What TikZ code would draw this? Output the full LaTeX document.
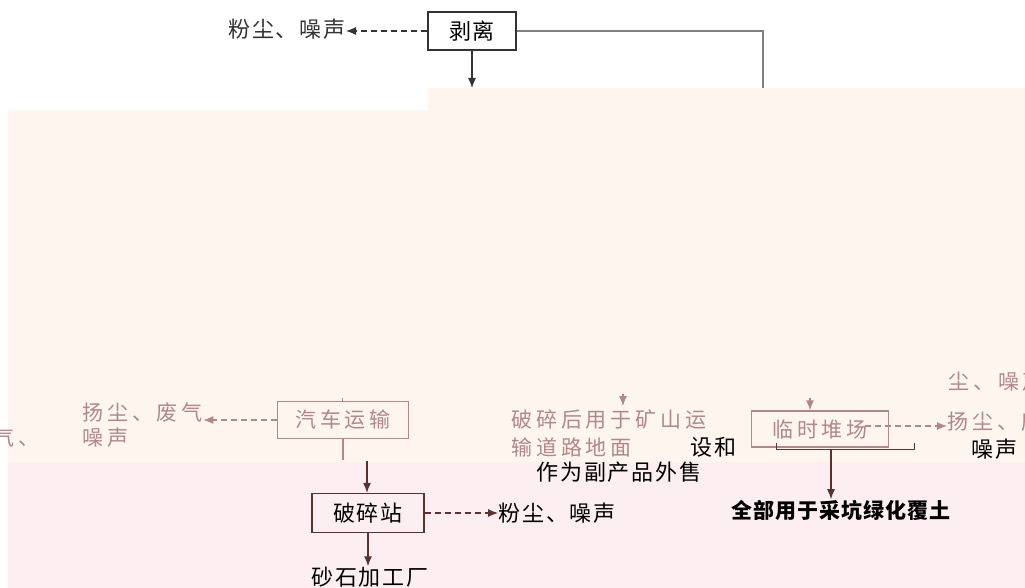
\documentclass[tikz,border=0pt]{standalone}
\usepackage{fontspec}
\setmainfont{Noto Sans CJK SC}
\usetikzlibrary{arrows,arrows.meta,positioning}
\definecolor{peach}{HTML}{FFF5EF}
\definecolor{blush}{HTML}{FDEFF1}
\definecolor{faded}{HTML}{B08888}
\definecolor{umber}{HTML}{5A3030}
\definecolor{ink}{HTML}{333333}

\begin{document}
\begin{tikzpicture}[x=1pt,y=-1pt,>={Latex[length=10pt,width=8pt]},line width=1.2pt,
                    node distance=20pt,
                    stepbox/.style={rectangle,draw,inner sep=0pt},
                    txt/.style={inner sep=0pt,font=\addfontfeature{LetterSpace=8}\fontsize{22}{26}\selectfont},
                    wide/.style={inner sep=0pt,font=\addfontfeature{LetterSpace=18}\fontsize{21}{25}\selectfont},
                    dashline/.style={dash pattern=on 6pt off 4pt}]
  \useasboundingbox (0,0) rectangle (1025,588);
  % background bands
  \fill[peach] (8,110) rectangle (1025,462);
  \fill[peach] (428,88) rectangle (1025,110);
  \fill[blush] (8,462) rectangle (1025,588);

  % top part
  \node[stepbox,draw=ink,minimum width=88pt,minimum height=38pt,txt] (strip) at (472,31) {剥离};
  \node[txt,text=ink,anchor=east] (stripdust) at (346,29) {粉尘、噪声};
  \coordinate (garble) at (472,88);
  \coordinate (corner) at (763,88);
  \draw[ink,dashline,->] (strip.west) -- (strip.west -| stripdust.east);
  \draw[ink,->] (strip) -- (garble);
  \draw[gray] (strip.east) -| (corner);

  % truck transport
  \node[stepbox,draw=faded,text=faded,minimum width=131pt,minimum height=37pt,wide] (truck) at (343,420) {汽车运输};
  \node[wide,text=faded,anchor=west] (truckdust) at (82,413) {扬尘、废气};
  \node[wide,text=faded,anchor=west] (trucknoise) at (82,438) {噪声};
  \node[wide,text=faded,anchor=east] (leftcut) at (40,438) {废气、};
  \coordinate (truckhead) at (342,398);
  \coordinate (truckfoot) at (343,460);
  \draw[faded,dashline,->] (truck.west) -- (truck.west -| truckdust.east);
  \draw[faded,line width=0.8pt] (truckhead) -- (truck.north -| truckhead);
  \draw[faded] (truck) -- (truckfoot);

  % crushing station
  \node[stepbox,draw=umber,minimum width=112pt,minimum height=39pt,txt] (crusher) at (368,513) {破碎站};
  \node[txt,anchor=west] (crushdust) at (498,513) {粉尘、噪声};
  \node[txt] (plant) at (370,577) {砂石加工厂};
  \coordinate (crushtop) at (367,461);
  \draw[umber,->] (crushtop) -- (crusher.north -| crushtop);
  \draw[umber,dashline,->] (crusher.east) -- (crushdust.west);
  \draw[umber,->] (crusher) -- (crusher.south |- plant.north);

  % road reuse text
  \node[wide,text=faded,anchor=west] (road1) at (511,420) {破碎后用于矿山运};
  \node[wide,text=faded,anchor=west] (road2) at (511,447) {输道路地面};
  \node[txt,anchor=west] (road3) at (690,447) {设和};
  \node[txt,anchor=west] (road4) at (536,472) {作为副产品外售};
  \coordinate (roadtip) at (623,394);
  \draw[faded,->] (roadtip) -- (623,406);

  % temporary yard
  \node[stepbox,draw=faded,text=faded,minimum width=137pt,minimum height=36pt,wide] (yard) at (820,429) {临时堆场};
  \node[wide,text=faded,anchor=west] (yarddust) at (947,422) {扬尘、废气};
  \node[wide,text=faded,anchor=west] (yardtop) at (948,382) {尘、噪声};
  \node[txt,anchor=west] (yardnoise) at (971,449) {噪声};
  \coordinate (yardtip) at (810,398);
  \coordinate (yardtail) at (865,426);
  \draw[faded,->] (yardtip) -- (yard.north -| yardtip);
  \draw[faded,dashline,->] (yardtail) -- (yardtail -| yarddust.west);
  \coordinate (bracketl) at (776,443);
  \coordinate (bracketr) at (914,443);
  \draw[umber,line width=1pt] (bracketl) -- ++(0,6) -| (bracketr);
  \node[txt,font=\addfontfeature{LetterSpace=5}\bfseries\fontsize{21}{25}\selectfont] (green) at (841,510) {全部用于采坑绿化覆土};
  \coordinate (bracketmid) at (831,449);
  \draw[umber,->] (bracketmid) -- (bracketmid |- green.north);
\end{tikzpicture}
\end{document}
